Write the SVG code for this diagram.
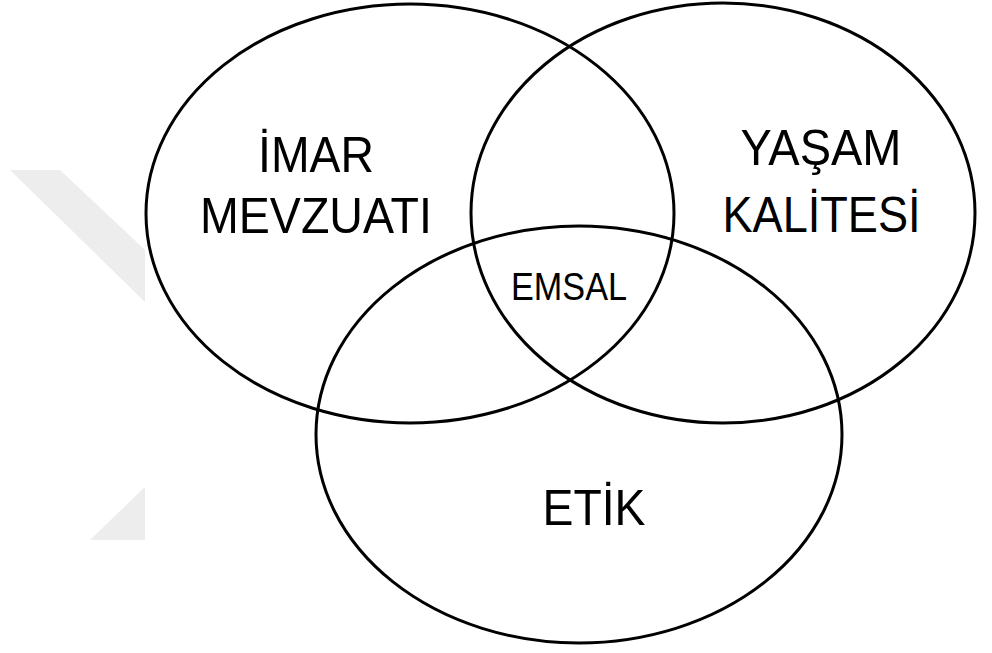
<svg xmlns="http://www.w3.org/2000/svg" width="992" height="653" viewBox="0 0 992 653">
  <style>
    .set { fill: none; stroke: #000; stroke-width: 3; }
    .lbl { font-family: "Liberation Sans", Arial, sans-serif; fill: #000; text-anchor: middle; }
    .big { font-size: 50px; }
    .mid { font-size: 39px; }
    .mark { fill: #ededed; }
  </style>
  <rect width="992" height="653" fill="#fff"/>

  <!-- faint background mark at the left edge -->
  <g id="mark">
    <polygon class="mark" points="10,170 60,170 145,250 145,302"/>
    <polygon class="mark" points="90,540 145,487 145,540"/>
  </g>

  <!-- the three overlapping sets -->
  <g id="imar">
    <ellipse class="set" cx="410" cy="213.5" rx="264" ry="209.5"/>
    <text class="lbl big" x="316" y="172" textLength="116" lengthAdjust="spacingAndGlyphs">İMAR</text>
    <text class="lbl big" x="316" y="233" textLength="232" lengthAdjust="spacingAndGlyphs">MEVZUATI</text>
  </g>
  <g id="yasam">
    <ellipse class="set" cx="723" cy="213" rx="252" ry="210"/>
    <text class="lbl big" x="821" y="165" textLength="161" lengthAdjust="spacingAndGlyphs">YAŞAM</text>
    <text class="lbl big" x="821.5" y="232" textLength="198" lengthAdjust="spacingAndGlyphs">KALİTESİ</text>
  </g>
  <g id="etik">
    <ellipse class="set" cx="579" cy="434.5" rx="263" ry="208.5"/>
    <text class="lbl big" x="594" y="525" textLength="103" lengthAdjust="spacingAndGlyphs">ETİK</text>
  </g>
  <g id="emsal">
    <text class="lbl mid" x="569" y="300" textLength="116" lengthAdjust="spacingAndGlyphs">EMSAL</text>
  </g>
</svg>
